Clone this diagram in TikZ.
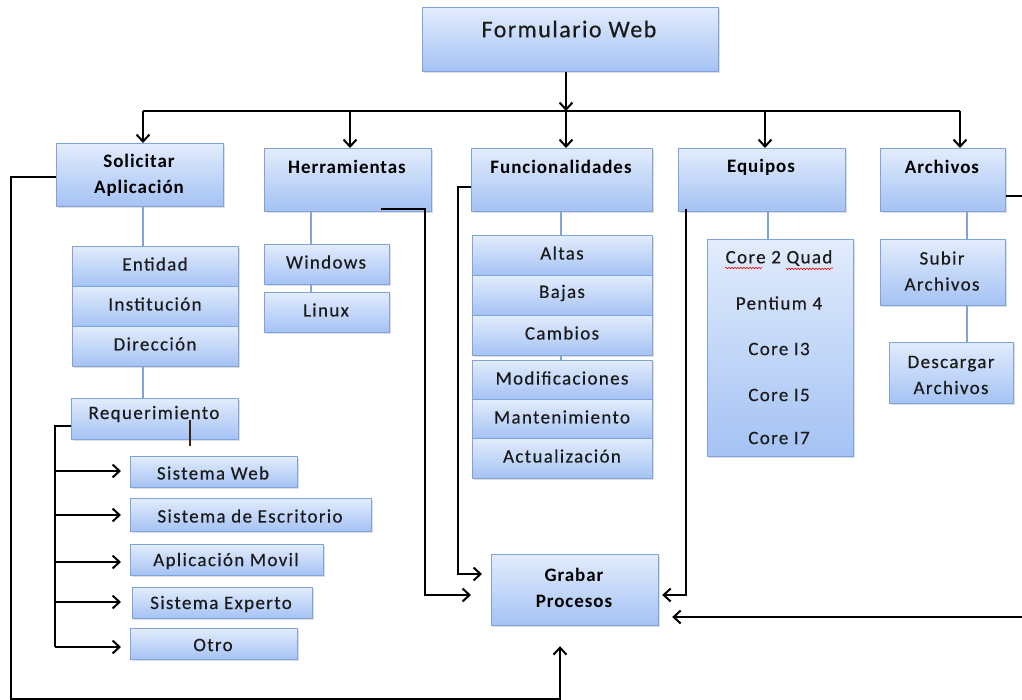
\documentclass[tikz,border=0pt]{standalone}
\usepackage{fontspec}
\setmainfont{Carlito}
\usetikzlibrary{arrows.meta,shadows,calc,decorations.pathmorphing}
\definecolor{boxtop}{HTML}{E2ECFC}
\definecolor{boxbot}{HTML}{A4C2F4}
\definecolor{boxline}{HTML}{7FA3DA}
\definecolor{inktext}{HTML}{1A1A1A}
\tikzset{
  box/.style={draw=boxline, line width=1.2pt, top color=boxtop, bottom color=boxbot,
    drop shadow={opacity=0.25, shadow xshift=1.5pt, shadow yshift=-1.5pt},
    inner sep=0pt, anchor=north west},
  item/.style={text=inktext, font=\addfontfeatures{LetterSpace=7,FakeBold=0.3}\fontsize{19}{26}\selectfont, align=center, inner sep=0pt},
  head/.style={text=black, font=\addfontfeatures{LetterSpace=5}\bfseries\fontsize{19}{26}\selectfont, align=center, inner sep=0pt},
  link/.style={draw=boxline, line width=1.2pt},
  wire/.style={draw=black, line width=2pt},
  arr/.style={wire, -{Straight Barb[length=7pt,width=13pt,line width=2pt]}},
}
% box from its top-left corner (x,y) with width and height, in pixels
\newcommand{\pbox}[5]{\node[box, minimum width=#4pt, minimum height=#5pt] (#1) at (#2,#3) {};}
\begin{document}
\begin{tikzpicture}[x=1pt,y=-1pt]
\useasboundingbox (0,0) rectangle (1022,699);
\fill[white] (0,0) rectangle (1022,699);
\clip (0,0) rectangle (1022,699);

% top box
\pbox{form}{422}{7}{296}{64}
\node[text=inktext, font=\addfontfeatures{LetterSpace=6,FakeBold=0.3}\fontsize{24}{26}\selectfont] (form-t) at (569,29) {Formulario Web};

% first level
\pbox{sol}{56}{143}{167}{63}
\node[head] (sol-t) at (139,175) {Solicitar\\Aplicación};
\pbox{herr}{264}{148}{167}{63}
\node[head] (herr-t) at (347,167) {Herramientas};
\pbox{func}{471}{148}{181}{63}
\node[head] (func-t) at (561,167) {Funcionalidades};
\pbox{equ}{678}{148}{167}{63}
\node[head] (equ-t) at (761,167) {Equipos};
\pbox{arch}{880}{148}{125}{63}
\node[head] (arch-t) at (942,167) {Archivos};

% Solicitar Aplicación branch
\pbox{ent}{72}{246}{166}{40}
\node[item] (ent-t) at (155,264) {Entidad};
\pbox{inst}{72}{286}{166}{40}
\node[item] (inst-t) at (155,304) {Institución};
\pbox{dir}{72}{326}{166}{40}
\node[item] (dir-t) at (155,344) {Dirección};
\pbox{req}{71}{398}{167}{41}
\node[item] (req-t) at (154,414) {Requerimiento};
\pbox{sw}{130}{456}{167}{31}
\node[item] (sw-t) at (213,473) {Sistema Web};
\pbox{se}{130}{498}{241}{33}
\node[item] (se-t) at (250,516) {Sistema de Escritorio};
\pbox{am}{130}{544}{193}{31}
\node[item] (am-t) at (226,561) {Aplicación Movil};
\pbox{sx}{132}{587}{180}{31}
\node[item] (sx-t) at (221,604) {Sistema Experto};
\pbox{ot}{130}{628}{167}{31}
\node[item] (ot-t) at (213,645) {Otro};

% Herramientas branch
\pbox{win}{264}{244}{125}{40}
\node[item] (win-t) at (326,262) {Windows};
\pbox{lin}{264}{292}{125}{40}
\node[item] (lin-t) at (326,310) {Linux};

% Funcionalidades branch
\pbox{alt}{472}{235}{180}{40}
\node[item] (alt-t) at (562,253) {Altas};
\pbox{baj}{472}{275}{180}{40}
\node[item] (baj-t) at (562,293) {Bajas};
\pbox{cam}{472}{315}{180}{40}
\node[item] (cam-t) at (562,333) {Cambios};
\pbox{mod}{472}{360}{180}{39}
\node[item] (mod-t) at (562,378) {Modificaciones};
\pbox{man}{472}{399}{180}{39}
\node[item] (man-t) at (562,417) {Mantenimiento};
\pbox{act}{472}{438}{180}{40}
\node[item] (act-t) at (562,456) {Actualización};

% Equipos branch
\pbox{cpu}{707}{239}{146}{217}
\node[item] (c1) at (779,258) {Core 2 Quad};
\node[item] (c2) at (779,303) {Pentium 4};
\node[item] (c3) at (779,349) {Core I3};
\node[item] (c4) at (779,395) {Core I5};
\node[item] (c5) at (779,438) {Core I7};
\draw[red, line width=0.6pt, decorate, decoration={snake, amplitude=0.8pt, segment length=3pt}]
  (725,268) -- (761,268) (786,268) -- (833,268);

% Archivos branch
\pbox{sub}{880}{239}{125}{66}
\node[item] (sub-t) at (942,271) {Subir\\Archivos};
\pbox{des}{889}{342}{124}{61}
\node[item] (des-t) at (951,375) {Descargar\\Archivos};

% Grabar Procesos
\pbox{grab}{491}{554}{167}{71}
\node[head] (grab-t) at (574,588) {Grabar\\Procesos};

% light tree links
\draw[link] (sol.south -| 143,0) -- (ent.north -| 143,0);
\draw[link] (dir.south -| 143,0) -- (req.north -| 143,0);
\draw[link] (herr.south -| 311,0) -- (win.north -| 311,0);
\draw[link] (win.south -| 311,0) -- (lin.north -| 311,0);
\draw[link] (func.south -| 561,0) -- (alt.north -| 561,0);
\draw[link] (cam.south -| 561,0) -- (mod.north -| 561,0);
\draw[link] (equ.south -| 768,0) -- (cpu.north -| 768,0);
\draw[link] (arch.south -| 967,0) -- (sub.north -| 967,0);
\draw[link] (sub.south -| 967,0) -- (des.north -| 967,0);

% main distribution bus
\coordinate (bus) at (566,111);
\draw[arr] (form.south -| bus) -- (bus);
\draw[wire] (143,111) -- (960,111);
\draw[arr] (143,111) -- (sol.north -| 143,0);
\draw[arr] (350,111) -- (herr.north -| 350,0);
\draw[arr] (566,111) -- (func.north -| 566,0);
\draw[arr] (765,111) -- (equ.north -| 765,0);
\draw[arr] (960,111) -- (arch.north -| 960,0);

% Requerimiento fan-out
\coordinate (rq) at (55,426);
\draw[wire] (req.west |- rq) -- (rq) -- (55,647);
\draw[arr, shorten >=9pt] (55,471) -- (sw.west |- 0,471);
\draw[arr, shorten >=9pt] (55,515) -- (se.west |- 0,515);
\draw[arr, shorten >=9pt] (55,562) -- (am.west |- 0,562);
\draw[arr, shorten >=11pt] (55,602) -- (sx.west |- 0,602);
\draw[arr, shorten >=9pt] (55,647) -- (ot.west |- 0,647);
\draw[line width=1.5pt, draw=black!70!brown] (190,420) -- (190,446);

% feeds into Grabar Procesos
\coordinate (hs) at (381,209);
\coordinate (es) at (686,209);
\draw[arr, shorten >=20pt] (sol.west |- 0,177) -- (11,177) -- (11,698.5) -- (560,698.5) -- (grab.south -| 560,0);
\draw[arr, shorten >=20pt] (hs) -- (425,209) -- (425,595) -- (grab.west |- 0,595);
\draw[arr, shorten >=9pt] (func.west |- 0,187) -- (458,187) -- (458,574) -- (grab.west |- 0,574);
\draw[arr, shorten >=3pt] (es) -- (686,595) -- (grab.east |- 0,595);
\draw[arr, shorten >=13pt] (arch.east |- 0,196) -- (1030,196) -- (1030,617) -- (grab.east |- 0,617);
\end{tikzpicture}
\end{document}
